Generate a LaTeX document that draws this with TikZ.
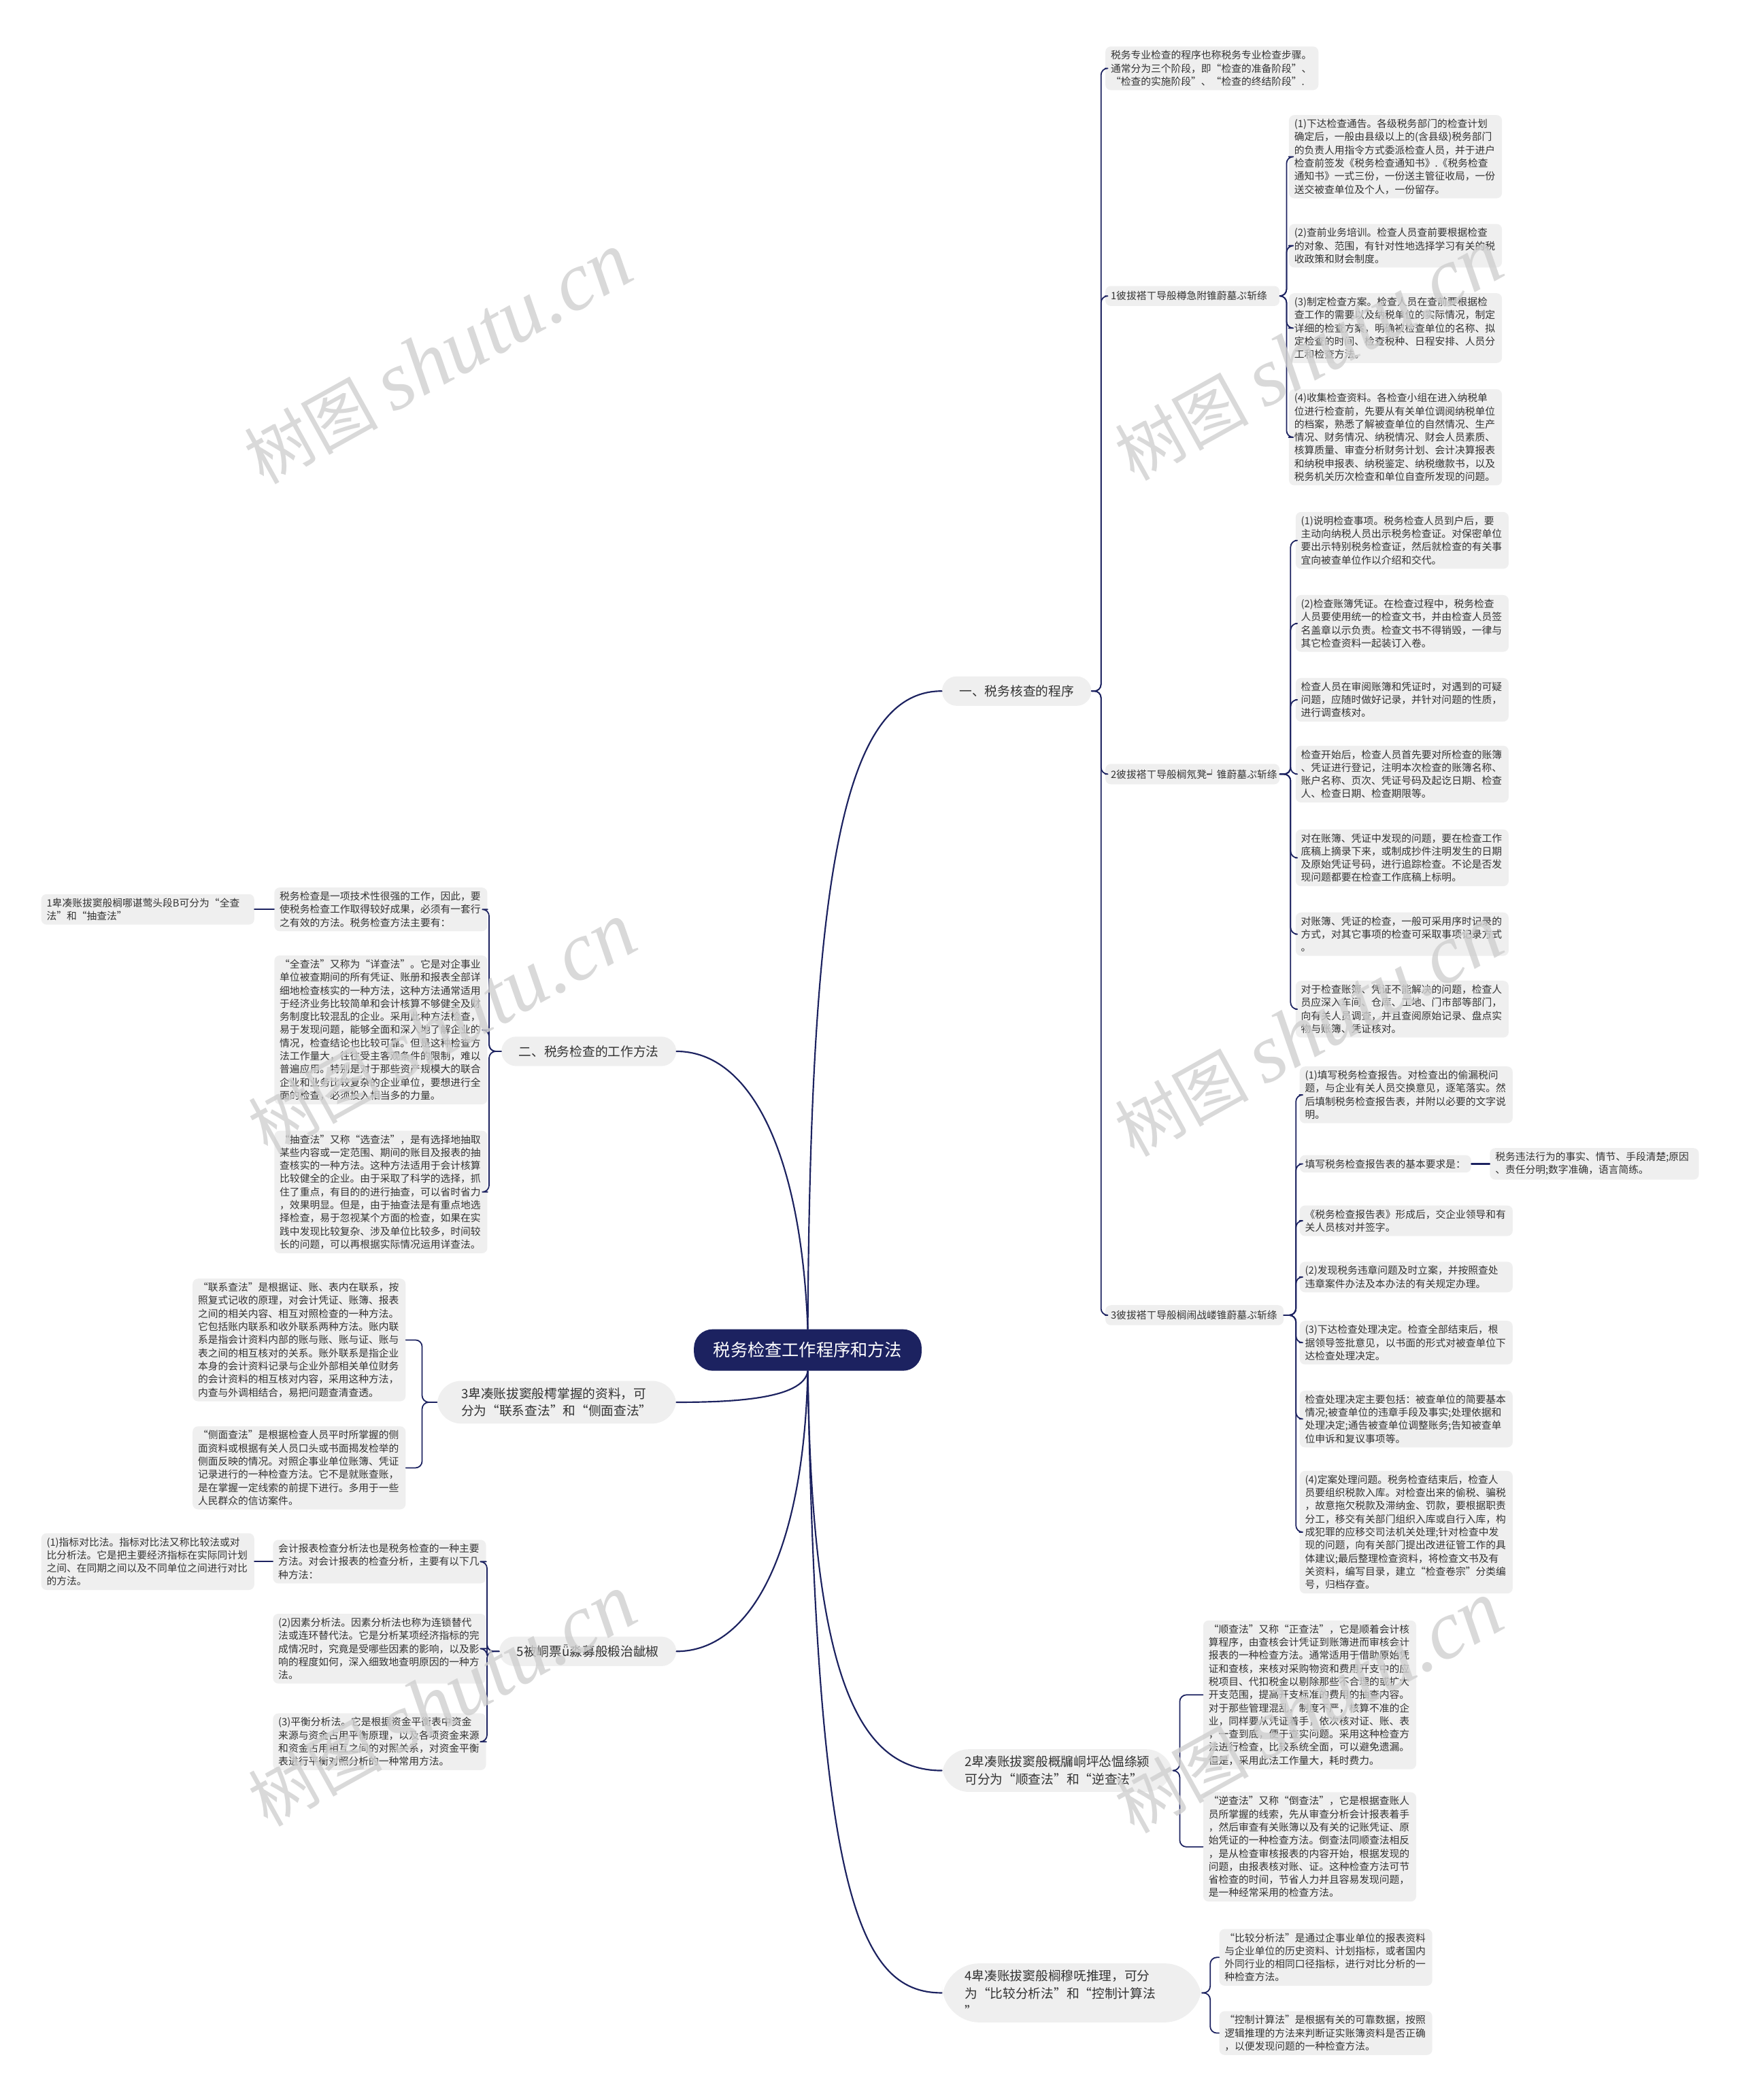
\documentclass[tikz,border=0pt]{standalone}
\usepackage{fontspec}
\newfontfamily\cjk{Noto Sans CJK SC}
\newfontfamily\wmserif{Liberation Serif}
\definecolor{navy}{HTML}{1C2260}
\definecolor{boxgray}{HTML}{EFEFEF}
\definecolor{txtgray}{HTML}{333333}
\definecolor{wmgray}{HTML}{CFCFCF}
\begin{document}
\begin{tikzpicture}[x=1pt,y=-1pt, line join=round, line cap=round,
  font=\cjk\fontsize{7.5}{9.8}\selectfont, text=txtgray,
  root/.style={fill=navy, text=white, rounded corners=14pt, minimum width=170pt, minimum height=31pt,
    font=\cjk\fontsize{12.8}{15}\selectfont},
  topic/.style={fill=boxgray, rounded corners=11pt, inner xsep=13pt, inner ysep=5pt, minimum height=22pt,
    align=left, font=\cjk\fontsize{9.5}{13}\selectfont},
  sub/.style={fill=boxgray, rounded corners=4pt, inner xsep=4pt, inner ysep=4pt, text width=122pt, align=left},
  leaf/.style={fill=boxgray, rounded corners=4pt, inner xsep=4pt, inner ysep=3pt, text width=151pt, align=left},
  link/.style={draw=navy, line width=1.1pt},
  brace/.style={draw=navy, line width=0.9pt, rounded corners=5pt},
  shuiyin/.style={text=wmgray, text opacity=0.8, rotate=29, font=\cjk\fontsize{50}{50}\selectfont}]
\useasboundingbox (0,0) rectangle (1300,1568);
% --- 中心主题 ---
\node[root] (root) at (603,1008) {税务检查工作程序和方法};
% --- 一级分支 ---
\node[topic, anchor=west] (b1) at (703,516) {一、税务核查的程序};
\node[topic, anchor=east] (b2) at (505,785) {二、税务检查的工作方法};
\node[topic, anchor=east, inner xsep=18pt, rounded corners=18pt] (b3) at (505,1047)
  {3卑凑账拔窦般樗掌握的资料，可\\分为“联系查法”和“侧面查法”};
\node[topic, anchor=east] (b5) at (505,1233) {5被峒票ǖ淼募般椴治龇椒};
\node[topic, anchor=west, inner xsep=17pt, rounded corners=20pt] (b6) at (703,1322)
  {2卑凑账拔窦般概牖峒坪怂愠绦颍\\可分为“顺查法”和“逆查法”};
\node[topic, anchor=west, inner xsep=17pt, rounded corners=28pt, text width=160pt] (b7) at (703,1488)
  {4卑凑账拔窦般榈穆呒推理，可分\\为“比较分析法”和“控制计算法\\”};
\draw[link] (root.north) .. controls (605,650) and (630,516) .. (b1.west);
\draw[link] (root.north) .. controls (598,860) and (560,785) .. (b2.east);
\draw[link] (root.south) .. controls (600,1045) and (545,1047) .. (b3.east);
\draw[link] (root.south) .. controls (600,1160) and (560,1233) .. (b5.east);
\draw[link] (root.south) .. controls (606,1250) and (640,1322) .. (b6.west);
\draw[link] (root.south) .. controls (610,1410) and (640,1488) .. (b7.west);
% --- 一、税务核查的程序 ---
\node[leaf, anchor=west] (t0) at (825,51) {税务专业检查的程序也称税务专业检查步骤。\\通常分为三个阶段，即“检查的准备阶段”、\\“检查的实施阶段”、“检查的终结阶段”.};
\node[sub, anchor=west] (l1) at (825,221) {1彼拔褡ㄒ导般樽急附锥蔚墓ぷ斩绦};
\node[sub, anchor=west] (l2) at (825,578) {2彼拔褡ㄒ导般榈氖凳┙锥蔚墓ぷ斩绦};
\node[sub, anchor=west, text width=125pt] (l3) at (825,982) {3彼拔褡ㄒ导般榈闹战嵝锥蔚墓ぷ斩绦};
\draw[brace] (b1.east) -- ++(7,0) |- (t0.west);
\draw[brace] (b1.east) -- ++(7,0) |- (l1.west);
\draw[brace] (b1.east) -- ++(7,0) |- (l2.west);
\draw[brace] (b1.east) -- ++(7,0) |- (l3.west);
% 准备阶段
\node[leaf, anchor=west] (l1a) at (962,117) {(1)下达检查通告。各级税务部门的检查计划\\确定后，一般由县级以上的(含县级)税务部门\\的负责人用指令方式委派检查人员，并于进户\\检查前签发《税务检查通知书》.《税务检查\\通知书》一式三份，一份送主管征收局，一份\\送交被查单位及个人，一份留存。};
\node[leaf, anchor=west] (l1b) at (962,183.5) {(2)查前业务培训。检查人员查前要根据检查\\的对象、范围，有针对性地选择学习有关的税\\收政策和财会制度。};
\node[leaf, anchor=west] (l1c) at (962,245) {(3)制定检查方案。检查人员在查前要根据检\\查工作的需要以及纳税单位的实际情况，制定\\详细的检查方案，明确被检查单位的名称、拟\\定检查的时间、检查税种、日程安排、人员分\\工和检查方法。};
\node[leaf, anchor=west] (l1d) at (962,326.5) {(4)收集检查资料。各检查小组在进入纳税单\\位进行检查前，先要从有关单位调阅纳税单位\\的档案，熟悉了解被查单位的自然情况、生产\\情况、财务情况、纳税情况、财会人员素质、\\核算质量、审查分析财务计划、会计决算报表\\和纳税申报表、纳税鉴定、纳税缴款书，以及\\税务机关历次检查和单位自查所发现的问题。};
\draw[brace] (l1.east) -- ++(5,0) |- (l1a.west);
\draw[brace] (l1.east) -- ++(5,0) |- (l1b.west);
\draw[brace] (l1.east) -- ++(5,0) |- (l1c.west);
\draw[brace] (l1.east) -- ++(5,0) |- (l1d.west);
% 实施阶段
\node[leaf, anchor=west] (l2a) at (967,403.5) {(1)说明检查事项。税务检查人员到户后，要\\主动向纳税人员出示税务检查证。对保密单位\\要出示特别税务检查证，然后就检查的有关事\\宜向被查单位作以介绍和交代。};
\node[leaf, anchor=west] (l2b) at (967,465.5) {(2)检查账簿凭证。在检查过程中，税务检查\\人员要使用统一的检查文书，并由检查人员签\\名盖章以示负责。检查文书不得销毁，一律与\\其它检查资料一起装订入卷。};
\node[leaf, anchor=west] (l2c) at (967,522.5) {检查人员在审阅账簿和凭证时，对遇到的可疑\\问题，应随时做好记录，并针对问题的性质，\\进行调查核对。};
\node[leaf, anchor=west] (l2d) at (967,578) {检查开始后，检查人员首先要对所检查的账簿\\、凭证进行登记，注明本次检查的账簿名称、\\账户名称、页次、凭证号码及起讫日期、检查\\人、检查日期、检查期限等。};
\node[leaf, anchor=west] (l2e) at (967,640.5) {对在账簿、凭证中发现的问题，要在检查工作\\底稿上摘录下来，或制成抄件注明发生的日期\\及原始凭证号码，进行追踪检查。不论是否发\\现问题都要在检查工作底稿上标明。};
\node[leaf, anchor=west] (l2f) at (967,697.5) {对账簿、凭证的检查，一般可采用序时记录的\\方式，对其它事项的检查可采取事项记录方式\\。};
\node[leaf, anchor=west] (l2g) at (967,753.5) {对于检查账簿、凭证不能解决的问题，检查人\\员应深入车间、仓库、工地、门市部等部门，\\向有关人员调查，并且查阅原始记录、盘点实\\物与账簿、凭证核对。};
\draw[brace] (l2.east) -- ++(8,0) |- (l2a.west);
\draw[brace] (l2.east) -- ++(8,0) |- (l2b.west);
\draw[brace] (l2.east) -- ++(8,0) |- (l2c.west);
\draw[brace] (l2.east) -- ++(8,0) |- (l2d.west);
\draw[brace] (l2.east) -- ++(8,0) |- (l2e.west);
\draw[brace] (l2.east) -- ++(8,0) |- (l2f.west);
\draw[brace] (l2.east) -- ++(8,0) |- (l2g.west);
% 终结阶段
\node[leaf, anchor=west] (l3a) at (970,817.5) {(1)填写税务检查报告。对检查出的偷漏税问\\题，与企业有关人员交换意见，逐笔落实。然\\后填制税务检查报告表，并附以必要的文字说\\明。};
\node[leaf, anchor=west, text width=120pt] (l3b) at (970,869) {填写税务检查报告表的基本要求是：};
\node[leaf, anchor=west, text width=148pt] (l3b1) at (1112,869) {税务违法行为的事实、情节、手段清楚;原因\\、责任分明;数字准确，语言简练。};
\node[leaf, anchor=west] (l3c) at (970,911.5) {《税务检查报告表》形成后，交企业领导和有\\关人员核对并签字。};
\node[leaf, anchor=west] (l3d) at (970,953.5) {(2)发现税务违章问题及时立案，并按照查处\\违章案件办法及本办法的有关规定办理。};
\node[leaf, anchor=west] (l3e) at (970,1002.5) {(3)下达检查处理决定。检查全部结束后，根\\据领导签批意见，以书面的形式对被查单位下\\达检查处理决定。};
\node[leaf, anchor=west] (l3f) at (970,1059.5) {检查处理决定主要包括：被查单位的简要基本\\情况;被查单位的违章手段及事实;处理依据和\\处理决定;通告被查单位调整账务;告知被查单\\位申诉和复议事项等。};
\node[leaf, anchor=west] (l3g) at (970,1144) {(4)定案处理问题。税务检查结束后，检查人\\员要组织税款入库。对检查出来的偷税、骗税\\，故意拖欠税款及滞纳金、罚款，要根据职责\\分工，移交有关部门组织入库或自行入库，构\\成犯罪的应移交司法机关处理;针对检查中发\\现的问题，向有关部门提出改进征管工作的具\\体建议;最后整理检查资料，将检查文书及有\\关资料，编写目录，建立“检查卷宗”分类编\\号，归档存查。};
\draw[brace] (l3.east) -- ++(9,0) |- (l3a.west);
\draw[brace] (l3.east) -- ++(9,0) |- (l3b.west);
\draw[brace] (l3.east) -- ++(9,0) |- (l3c.west);
\draw[brace] (l3.east) -- ++(9,0) |- (l3d.west);
\draw[brace] (l3.east) -- ++(9,0) |- (l3e.west);
\draw[brace] (l3.east) -- ++(9,0) |- (l3f.west);
\draw[brace] (l3.east) -- ++(9,0) |- (l3g.west);
\draw[link] (l3b.east) -- (l3b1.west);
% --- 二、税务检查的工作方法 ---
\node[leaf, anchor=east] (b2a) at (364,679) {税务检查是一项技术性很强的工作，因此，要\\使税务检查工作取得较好成果，必须有一套行\\之有效的方法。税务检查方法主要有：};
\node[leaf, anchor=east] (b2a1) at (190,679) {1卑凑账拔窦般榈哪谌莺头段B可分为“全查\\法”和“抽查法”};
\node[leaf, anchor=east] (b2b) at (364,769) {“全查法”又称为“详查法”。它是对企事业\\单位被查期间的所有凭证、账册和报表全部详\\细地检查核实的一种方法，这种方法通常适用\\于经济业务比较简单和会计核算不够健全及财\\务制度比较混乱的企业。采用此种方法检查，\\易于发现问题，能够全面和深入地了解企业的\\情况，检查结论也比较可靠。但是这种检查方\\法工作量大，往往受主客观条件的限制，难以\\普遍应用。特别是对于那些资产规模大的联合\\企业和业务比较复杂的企业单位，要想进行全\\面的检查，必须投入相当多的力量。};
\node[leaf, anchor=east] (b2c) at (364,890) {“抽查法”又称“选查法”，是有选择地抽取\\某些内容或一定范围、期间的账目及报表的抽\\查核实的一种方法。这种方法适用于会计核算\\比较健全的企业。由于采取了科学的选择，抓\\住了重点，有目的的进行抽查，可以省时省力\\，效果明显。但是，由于抽查法是有重点地选\\择检查，易于忽视某个方面的检查，如果在实\\践中发现比较复杂、涉及单位比较多，时间较\\长的问题，可以再根据实际情况运用详查法。};
\draw[brace] (b2.west) -- ++(-9,0) |- (b2a.east);
\draw[brace] (b2.west) -- ++(-9,0) |- (b2b.east);
\draw[brace] (b2.west) -- ++(-9,0) |- (b2c.east);
\draw[link] (b2a.west) -- (b2a1.east);
% --- 联系查法 / 侧面查法 ---
\node[leaf, anchor=east] (b3a) at (303,1000.5) {“联系查法”是根据证、账、表内在联系，按\\照复式记收的原理，对会计凭证、账簿、报表\\之间的相关内容、相互对照检查的一种方法。\\它包括账内联系和收外联系两种方法。账内联\\系是指会计资料内部的账与账、账与证、账与\\表之间的相互核对的关系。账外联系是指企业\\本身的会计资料记录与企业外部相关单位财务\\的会计资料的相互核对内容，采用这种方法，\\内查与外调相结合，易把问题查清查透。};
\node[leaf, anchor=east] (b3b) at (303,1096) {“侧面查法”是根据检查人员平时所掌握的侧\\面资料或根据有关人员口头或书面揭发检举的\\侧面反映的情况。对照企事业单位账簿、凭证\\记录进行的一种检查方法。它不是就账查账，\\是在掌握一定线索的前提下进行。多用于一些\\人民群众的信访案件。};
\draw[brace] (b3.west) -- ++(-11,0) |- (b3a.east);
\draw[brace] (b3.west) -- ++(-11,0) |- (b3b.east);
% --- 会计报表分析 ---
\node[leaf, anchor=east] (b5a) at (363,1166) {会计报表检查分析法也是税务检查的一种主要\\方法。对会计报表的检查分析，主要有以下几\\种方法：};
\node[leaf, anchor=east] (b5a1) at (190,1166) {(1)指标对比法。指标对比法又称比较法或对\\比分析法。它是把主要经济指标在实际同计划\\之间、在同期之间以及不同单位之间进行对比\\的方法。};
\node[leaf, anchor=east] (b5b) at (363,1231) {(2)因素分析法。因素分析法也称为连锁替代\\法或连环替代法。它是分析某项经济指标的完\\成情况时，究竟是受哪些因素的影响，以及影\\响的程度如何，深入细致地查明原因的一种方\\法。};
\node[leaf, anchor=east] (b5c) at (363,1300.5) {(3)平衡分析法。它是根据资金平衡表中资金\\来源与资金占用平衡原理，以及各项资金来源\\和资金占用相互之间的对照关系，对资金平衡\\表进行平衡对照分析的一种常用方法。};
\draw[brace] (b5.west) -- ++(-9,0) |- (b5a.east);
\draw[brace] (b5.west) -- ++(-9,0) |- (b5b.east);
\draw[brace] (b5.west) -- ++(-9,0) |- (b5c.east);
\draw[link] (b5a.west) -- (b5a1.east);
% --- 顺查法 / 逆查法 ---
\node[leaf, anchor=west] (b6a) at (898,1265.5) {“顺查法”又称“正查法”，它是顺着会计核\\算程序，由查核会计凭证到账簿进而审核会计\\报表的一种检查方法。通常适用于借助原始凭\\证和查核，来核对采购物资和费用开支中的应\\税项目、代扣税金以剔除那些不合理的或扩大\\开支范围，提高开支标准的费用的抽查内容。\\对于那些管理混乱，制度不严，核算不准的企\\业，同样要从凭证着手，依次核对证、账、表\\，一查到底，便于查实问题。采用这种检查方\\法进行检查，比较系统全面，可以避免遗漏。\\但是，采用此法工作量大，耗时费力。};
\node[leaf, anchor=west] (b6b) at (898,1379) {“逆查法”又称“倒查法”，它是根据查账人\\员所掌握的线索，先从审查分析会计报表着手\\，然后审查有关账簿以及有关的记账凭证、原\\始凭证的一种检查方法。倒查法同顺查法相反\\，是从检查审核报表的内容开始，根据发现的\\问题，由报表核对账、证。这种检查方法可节\\省检查的时间，节省人力并且容易发现问题，\\是一种经常采用的检查方法。};
\draw[brace] (b6.east) -- ++(5,0) |- (b6a.west);
\draw[brace] (b6.east) -- ++(5,0) |- (b6b.west);
% --- 比较分析法 / 控制计算法 ---
\node[leaf, anchor=west] (b7a) at (910,1461.5) {“比较分析法”是通过企事业单位的报表资料\\与企业单位的历史资料、计划指标，或者国内\\外同行业的相同口径指标，进行对比分析的一\\种检查方法。};
\node[leaf, anchor=west] (b7b) at (910,1518) {“控制计算法”是根据有关的可靠数据，按照\\逻辑推理的方法来判断证实账簿资料是否正确\\，以便发现问题的一种检查方法。};
\draw[brace] (b7.east) -- ++(6,0) |- (b7a.west);
\draw[brace] (b7.east) -- ++(6,0) |- (b7b.west);
% --- 水印 ---
\node[shuiyin] (wm1) at (327,268) {树图 {\wmserif\itshape\fontsize{62}{62}\selectfont shutu.cn}};
\node[shuiyin] (wm2) at (330,768) {树图 {\wmserif\itshape\fontsize{62}{62}\selectfont shutu.cn}};
\node[shuiyin] (wm3) at (330,1270) {树图 {\wmserif\itshape\fontsize{62}{62}\selectfont shutu.cn}};
\node[shuiyin] (wm4) at (977,265) {树图 {\wmserif\itshape\fontsize{62}{62}\selectfont shutu.cn}};
\node[shuiyin] (wm5) at (977,770) {树图 {\wmserif\itshape\fontsize{62}{62}\selectfont shutu.cn}};
\node[shuiyin] (wm6) at (977,1275) {树图 {\wmserif\itshape\fontsize{62}{62}\selectfont shutu.cn}};
\end{tikzpicture}
\end{document}
